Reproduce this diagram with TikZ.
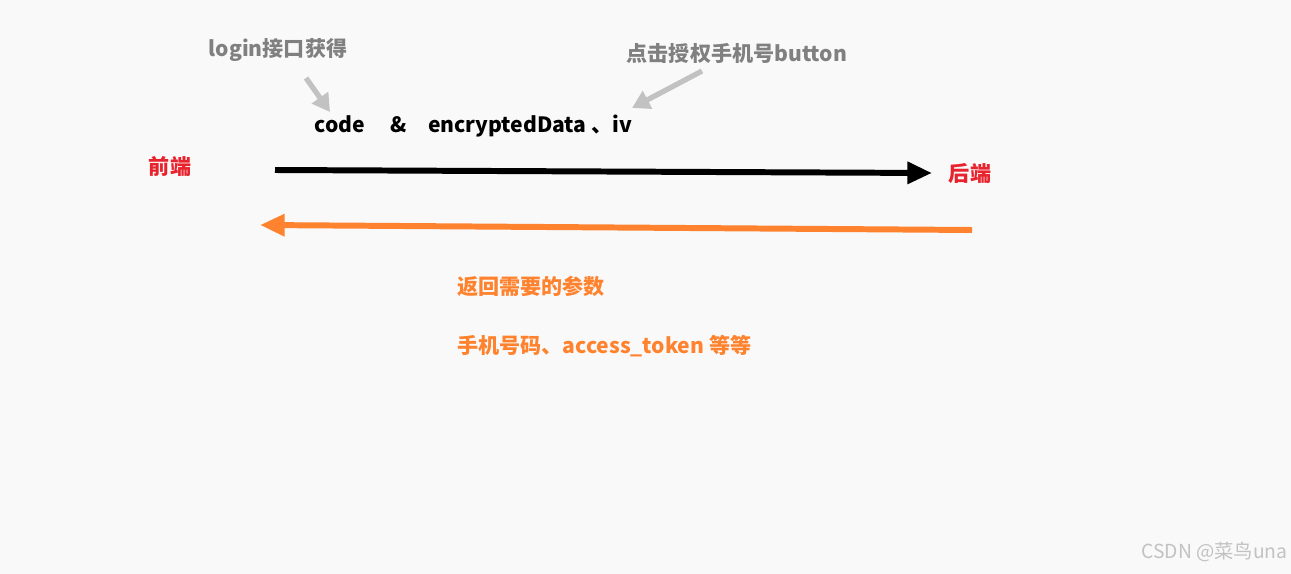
\documentclass[tikz,border=0pt]{standalone}
\usepackage{fontspec}
\setmainfont{Noto Sans}
\newfontfamily\cjk{Noto Sans CJK SC}
\usetikzlibrary{arrows.meta}
\definecolor{bg}{HTML}{F9F9F9}
\definecolor{redt}{HTML}{E8232E}
\definecolor{orng}{HTML}{FF832E}
\definecolor{grayt}{HTML}{808080}
\definecolor{grayl}{HTML}{C2C2C2}
\begin{document}
\begin{tikzpicture}[x=0.02cm,y=-0.02cm,
  lbl/.style={font=\cjk\bfseries\fontsize{12}{14}\selectfont,inner sep=0pt},
  big/.style={line width=3.4pt,-{Triangle[length=14pt,width=12pt]}},
  hint/.style={line width=3pt,grayl,-{Triangle[length=10pt,width=11pt]}}]
\fill[bg] (0,0) rectangle (1291,574);
\useasboundingbox (0,0) rectangle (1291,574);
\node[lbl,redt] (fe) at (170,167) {前端};
\node[lbl,redt] (be) at (970,174) {后端};
\coordinate (a1) at (275,170);
\coordinate (a2) at (932,173);
\draw[big,black] (a1) -- (a2);
\coordinate (b1) at (972,230);
\coordinate (b2) at (260,225);
\draw[big,orng] (b1) -- (b2);
\node[lbl,grayt] (lg) at (278,50) {login接口获得};
\node[lbl,grayt] (ck) at (737,53) {点击授权手机号button};
\node[lbl,black,anchor=west] (cd) at (314,126) {code\quad\ \&\quad encryptedData 、iv};
\coordinate (g1) at (306,78);
\coordinate (g2) at (330,112);
\draw[hint] (g1) -- (g2);
\coordinate (h1) at (702,71);
\coordinate (h2) at (632,108);
\draw[hint] (h1) -- (h2);
\node[lbl,orng,anchor=west] (r1) at (457,286) {返回需要的参数};
\node[lbl,orng,anchor=west] (r2) at (457,346) {手机号码、access\_token 等等};
\node[font=\cjk\fontsize{11}{13}\selectfont,text=grayl,anchor=east,inner sep=0pt] (wm) at (1288,552) {CSDN @菜鸟una};
\end{tikzpicture}
\end{document}
